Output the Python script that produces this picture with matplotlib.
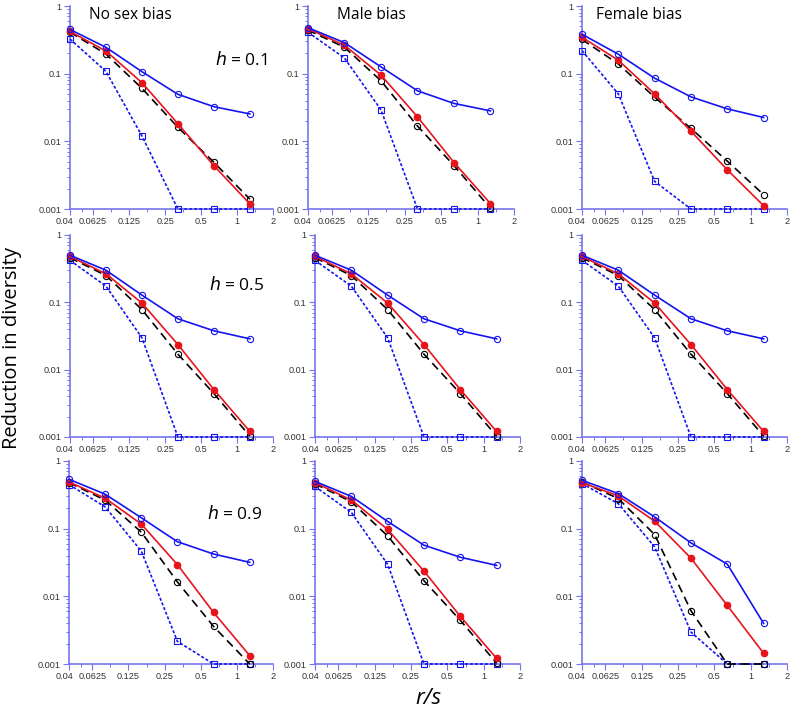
import matplotlib
matplotlib.use("Agg")
import matplotlib.pyplot as plt
import matplotlib.transforms as mtransforms
from matplotlib.ticker import FixedLocator, NullFormatter

# ---------------- DATA ----------------

r_over_s = [0.04, 0.08, 0.16, 0.32, 0.64, 1.28]

x_ticks = [0.04, 0.0625, 0.125, 0.25, 0.5, 1, 2]
x_tick_labels = ["0.04", "0.0625", "0.125", "0.25", "0.5", "1", "2"]
y_ticks = [0.001, 0.01, 0.1, 1]
y_tick_labels = ["0.001", "0.01", "0.1", "1"]

col_titles = ["No sex bias", "Male bias", "Female bias"]
h_values = ["0.1", "0.5", "0.9"]

# series per panel: blue solid (open circles), red (filled), black dashed, blue dotted (squares)
nosex_h01_blue = [0.45, 0.245, 0.107, 0.0495, 0.0325, 0.0254]
nosex_h01_red = [0.42, 0.216, 0.0736, 0.0182, 0.00437, 0.00119]
nosex_h01_black = [0.41, 0.195, 0.0607, 0.0161, 0.0049, 0.0014]
nosex_h01_dot = [0.325, 0.108, 0.012, 0.001, 0.001, 0.001]

male_h01_blue = [0.478, 0.287, 0.126, 0.0558, 0.0363, 0.0282]
male_h01_red = [0.462, 0.262, 0.0953, 0.023, 0.00486, 0.0012]
male_h01_black = [0.44, 0.245, 0.0785, 0.0168, 0.00438, 0.00102]
male_h01_dot = [0.41, 0.17, 0.0292, 0.001, 0.001, 0.001]

female_h01_blue = [0.382, 0.194, 0.0857, 0.0454, 0.0302, 0.0225]
female_h01_red = [0.345, 0.158, 0.0502, 0.0141, 0.0038, 0.00112]
female_h01_black = [0.32, 0.139, 0.0449, 0.0155, 0.0051, 0.00163]
female_h01_dot = [0.219, 0.0502, 0.00256, 0.001, 0.001, 0.001]

nosex_h05_blue = [0.5, 0.3, 0.128, 0.057, 0.0378, 0.0287]
nosex_h05_red = [0.48, 0.265, 0.0975, 0.0236, 0.00507, 0.00121]
nosex_h05_black = [0.46, 0.25, 0.078, 0.017, 0.00442, 0.00103]
nosex_h05_dot = [0.42, 0.174, 0.0297, 0.001, 0.001, 0.001]

male_h05_blue = [0.5, 0.3, 0.128, 0.057, 0.0378, 0.0287]
male_h05_red = [0.48, 0.265, 0.0975, 0.0236, 0.00507, 0.00121]
male_h05_black = [0.46, 0.25, 0.078, 0.017, 0.00442, 0.00103]
male_h05_dot = [0.42, 0.174, 0.0297, 0.001, 0.001, 0.001]

female_h05_blue = [0.5, 0.3, 0.128, 0.057, 0.0378, 0.0287]
female_h05_red = [0.48, 0.265, 0.0975, 0.0236, 0.00507, 0.00121]
female_h05_black = [0.46, 0.25, 0.078, 0.017, 0.00442, 0.00103]
female_h05_dot = [0.42, 0.174, 0.0297, 0.001, 0.001, 0.001]

nosex_h09_blue = [0.537, 0.323, 0.145, 0.0641, 0.0422, 0.0318]
nosex_h09_red = [0.49, 0.282, 0.117, 0.0294, 0.00577, 0.00133]
nosex_h09_black = [0.48, 0.264, 0.089, 0.0163, 0.00359, 0.001]
nosex_h09_dot = [0.448, 0.21, 0.0467, 0.00216, 0.001, 0.001]

male_h09_blue = [0.5, 0.3, 0.128, 0.057, 0.0378, 0.0287]
male_h09_red = [0.48, 0.265, 0.0975, 0.0236, 0.00507, 0.00121]
male_h09_black = [0.46, 0.25, 0.078, 0.017, 0.00442, 0.00103]
male_h09_dot = [0.42, 0.174, 0.0297, 0.001, 0.001, 0.001]

female_h09_blue = [0.518, 0.33, 0.149, 0.0617, 0.0299, 0.00398]
female_h09_red = [0.479, 0.305, 0.129, 0.0366, 0.00733, 0.00144]
female_h09_black = [0.49, 0.278, 0.0818, 0.00612, 0.001, 0.001]
female_h09_dot = [0.463, 0.234, 0.0538, 0.00296, 0.001, 0.001]

panels = [
    [(nosex_h01_blue, nosex_h01_red, nosex_h01_black, nosex_h01_dot),
     (male_h01_blue, male_h01_red, male_h01_black, male_h01_dot),
     (female_h01_blue, female_h01_red, female_h01_black, female_h01_dot)],
    [(nosex_h05_blue, nosex_h05_red, nosex_h05_black, nosex_h05_dot),
     (male_h05_blue, male_h05_red, male_h05_black, male_h05_dot),
     (female_h05_blue, female_h05_red, female_h05_black, female_h05_dot)],
    [(nosex_h09_blue, nosex_h09_red, nosex_h09_black, nosex_h09_dot),
     (male_h09_blue, male_h09_red, male_h09_black, male_h09_dot),
     (female_h09_blue, female_h09_red, female_h09_black, female_h09_dot)],
]

# ---------------- LAYOUT (pixels) ----------------

W, H = 791, 710
col_left = [[70, 308, 582], [70, 315, 582], [69, 315, 582]]
col_right = [[273, 514, 787], [273, 520, 787], [273, 520, 787]]
row_top = [6, 235, 461]
row_bottom = [209, 437, 664]

title_x = [89, 337, 596]
h_right = [268, 264, 262]
h_y = [60, 285, 514]

AXIS_COLOR = "#7474ee"
BLUE = "#1414f0"
RED = "#e8141c"

fig = plt.figure(figsize=(W / 100, H / 100), dpi=100)

minor_x = [0.05, 0.088, 0.177, 0.354, 0.707, 1.414]
minor_y = [m * 10 ** e for e in (-3, -2, -1) for m in range(2, 10)]

# small nudge for the first x label, as in the original
nudge = mtransforms.ScaledTranslation(-5 / 100, 0, fig.dpi_scale_trans)

for i in range(3):
    for j in range(3):
        l, r = col_left[i][j], col_right[i][j]
        t, b = row_top[i], row_bottom[i]
        ax = fig.add_axes([l / W, 1 - b / H, (r - l) / W, (b - t) / H])
        blue, red, black, dot = panels[i][j]

        ax.plot(r_over_s, dot, ls=(0, (1.8, 1.2)), color=BLUE, lw=1.2,
                marker="s", ms=4, mfc="none", mec=BLUE, mew=0.8, clip_on=False, zorder=3)
        ax.plot(r_over_s, black, ls=(0, (5, 3)), color="black", lw=1.2,
                marker="o", ms=4.5, mfc="none", mec="black", mew=0.8, clip_on=False, zorder=4)
        ax.plot(r_over_s, red, ls="-", color=RED, lw=1.2,
                marker="o", ms=4.5, mfc=RED, mec=RED, clip_on=False, zorder=5)
        ax.plot(r_over_s, blue, ls="-", color=BLUE, lw=1.2,
                marker="o", ms=4.5, mfc="none", mec=BLUE, mew=0.8, clip_on=False, zorder=6)

        ax.set_xscale("log")
        ax.set_yscale("log")
        ax.set_xlim(0.04, 2)
        ax.set_ylim(0.001, 1)

        ax.xaxis.set_major_locator(FixedLocator(x_ticks))
        ax.set_xticklabels(x_tick_labels)
        ax.xaxis.set_minor_locator(FixedLocator(minor_x))
        ax.xaxis.set_minor_formatter(NullFormatter())
        ax.yaxis.set_major_locator(FixedLocator(y_ticks))
        ax.set_yticklabels(y_tick_labels)
        ax.yaxis.set_minor_locator(FixedLocator(minor_y))
        ax.yaxis.set_minor_formatter(NullFormatter())

        for s in ["top", "right"]:
            ax.spines[s].set_visible(False)
        for s in ["left", "bottom"]:
            ax.spines[s].set_color(AXIS_COLOR)
            ax.spines[s].set_linewidth(1.2)

        ax.tick_params(which="major", direction="out", length=4, width=0.8,
                       color=AXIS_COLOR, labelsize=6.6, labelcolor="#333333", pad=2)
        ax.tick_params(which="minor", direction="out", length=2, width=0.7,
                       color=AXIS_COLOR)
        for lab in ax.get_xticklabels() + ax.get_yticklabels():
            lab.set_family("Liberation Sans")
        first = ax.get_xticklabels()[0]
        first.set_transform(first.get_transform() + nudge)

        if i == 0:
            fig.text(title_x[j] / W, 1 - 15 / H, col_titles[j],
                     fontsize=11.2, family="Open Sans", ha="left", va="center")
        if j == 0:
            fig.text(h_right[i] / W, 1 - h_y[i] / H, "$h$ = " + h_values[i],
                     fontsize=12.5, family="Open Sans", ha="right", va="center")

fig.text(12 / W, 1 - 348 / H, "Reduction in diversity", rotation=90,
         fontsize=14.5, family="Open Sans", ha="center", va="center")
fig.text(428 / W, 1 - 699 / H, "r/s", fontsize=16, family="Open Sans",
         style="italic", ha="center", va="center")

fig.savefig("out.png", dpi=100)
